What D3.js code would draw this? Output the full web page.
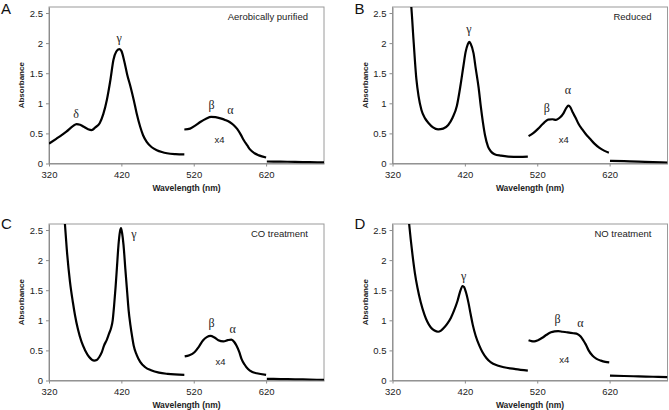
<!DOCTYPE html>
<html>
<head>
<meta charset="utf-8">
<script src="https://cdn.jsdelivr.net/npm/d3@7"></script>
<style>
  body { margin: 0; background: #fff; }
  svg { display: block; font-family: "Liberation Sans", Arial, sans-serif; }
  .axis path, .axis line { stroke: #8c8c8c; }
  .axis text { fill: #222; font-size: 9.5px; }
</style>
</head>
<body>
<svg id="chart" width="669" height="410"></svg>
<script>
// wavelength (nm), absorbance
const aerobicMain = [[320,0.33],[330,0.41],[344,0.53],[353,0.62],[358,0.655],[363,0.645],[368,0.61],[374,0.57],[379,0.555],[384,0.6],[390,0.67],[395,0.82],[400,1.06],[405,1.4],[409,1.72],[413,1.86],[417,1.9],[420,1.87],[424,1.7],[428,1.48],[433,1.26],[437,1.06],[441,0.84],[446,0.61],[450,0.47],[455,0.36],[462,0.27],[469,0.22],[476,0.19],[483,0.17],[495,0.155],[507,0.15]];
const aerobicX4 = [[507,0.565],[515,0.58],[522,0.63],[529,0.69],[537,0.745],[544,0.775],[550,0.77],[557,0.75],[564,0.72],[570,0.685],[575,0.64],[580,0.575],[585,0.48],[589,0.39],[594,0.3],[598,0.23],[604,0.17],[610,0.135],[620,0.1]];
const aerobicTail = [[621,0.033],[640,0.03],[660,0.027],[680,0.022],[700,0.018]];

const reducedMain = [[338,3.6],[343,2.95],[346,2.6],[349,2.06],[353,1.4],[356,1.12],[360,0.89],[365,0.75],[370,0.67],[376,0.6],[383,0.567],[390,0.58],[397,0.64],[403,0.76],[409,0.96],[414,1.3],[418,1.62],[421,1.85],[424,1.98],[426,2.02],[428,1.99],[432,1.83],[435,1.58],[439,1.26],[442,0.95],[445,0.68],[448,0.46],[452,0.28],[456,0.2],[461,0.155],[470,0.13],[480,0.115],[495,0.11],[507,0.115]];
const reducedX4 = [[508,0.455],[514,0.5],[521,0.575],[528,0.66],[535,0.73],[541,0.735],[546,0.725],[551,0.76],[556,0.83],[560,0.92],[563,0.96],[566,0.93],[569,0.85],[573,0.76],[577,0.66],[582,0.57],[587,0.49],[593,0.41],[599,0.33],[606,0.26],[613,0.21],[619,0.18]];
const reducedTail = [[620.5,0.045],[640,0.038],[660,0.03],[680,0.022],[700,0.015]];

const coMain = [[338,3.4],[342,2.6],[344.5,2.19],[349,1.64],[353,1.3],[356,1.08],[360,0.85],[365,0.64],[370,0.5],[375.5,0.39],[382.5,0.33],[386,0.34],[389.5,0.39],[393,0.47],[396,0.58],[400,0.68],[403,0.78],[406,0.88],[408,1.0],[410,1.25],[412,1.55],[414,1.9],[416,2.25],[418,2.47],[419.5,2.53],[421,2.45],[423,2.25],[425.5,1.85],[428,1.47],[430,1.17],[432.5,0.92],[435,0.72],[437,0.58],[441,0.43],[446,0.31],[453,0.22],[461,0.17],[472,0.13],[484,0.11],[507,0.095]];
const coX4 = [[507.5,0.4],[514,0.42],[521,0.47],[527,0.56],[533,0.67],[538,0.72],[543,0.74],[548,0.72],[554,0.67],[561,0.65],[567,0.67],[572,0.68],[576,0.64],[579,0.58],[583,0.47],[586,0.36],[590,0.27],[595,0.19],[601,0.14],[607,0.12],[620,0.094]];
const coTail = [[621,0.028],[640,0.024],[660,0.02],[680,0.015],[700,0.01]];

const noMain = [[338,3.3],[343,2.6],[347.6,2.09],[351,1.78],[354.5,1.54],[359,1.3],[364,1.1],[368,0.98],[373,0.88],[378,0.83],[383,0.81],[387,0.83],[391.4,0.88],[396,0.95],[400.6,1.04],[405,1.16],[409.8,1.32],[413,1.46],[416.8,1.57],[419,1.55],[421.4,1.47],[425,1.29],[428,1.1],[431,0.92],[435,0.74],[440,0.58],[444.4,0.47],[450,0.37],[456,0.3],[465,0.25],[474,0.22],[490,0.19],[507,0.165]];
const noX4 = [[508,0.67],[512,0.655],[516,0.65],[521,0.67],[527,0.71],[533,0.76],[539,0.8],[544,0.815],[549,0.82],[555,0.81],[562,0.8],[570,0.785],[576,0.77],[580,0.73],[584,0.66],[587,0.6],[591,0.5],[596.5,0.41],[602,0.36],[608,0.33],[614,0.31],[619.5,0.3]];
const noTail = [[620.5,0.082],[640,0.075],[660,0.068],[680,0.062],[700,0.055]];

// peak labels: [text, wavelength, absorbance]
const aerobicLabels = [["δ",357.4,0.82],["γ",417,2.09],["β",544.5,0.97],["α",570.8,0.9],["x4",555.5,0.39]];
const reducedLabels = [["γ",425.5,2.23],["β",533.3,0.92],["α",562.2,1.22],["x4",556.7,0.39]];
const coLabels = [["γ",437.2,2.43],["β",544.6,0.96],["α",573.7,0.86],["x4",557,0.32]];
const noLabels = [["γ",418.2,1.74],["β",548.1,1.03],["α",579.5,0.96],["x4",557.4,0.34]];

const panelLetters = ["A", "B", "C", "D"];
const conditions = ["Aerobically purified", "Reduced", "CO treatment", "NO treatment"];
const xTicks = [320, 420, 520, 620];
const yTicks = [0, 0.5, 1, 1.5, 2, 2.5];

const panels = [
  { segs: [aerobicMain, aerobicX4, aerobicTail], labels: aerobicLabels },
  { segs: [reducedMain, reducedX4, reducedTail], labels: reducedLabels },
  { segs: [coMain, coX4, coTail], labels: coLabels },
  { segs: [noMain, noX4, noTail], labels: noLabels }
];

const svg = d3.select("#chart");
const colLeft = [49, 392.5];
const rowTop = [7, 224];
const pw = 275, ph = 156.5;

panels.forEach((p, i) => {
  const left = colLeft[i % 2], top = rowTop[Math.floor(i / 2)];
  const g = svg.append("g").attr("transform", `translate(${left},${top})`);

  const x = d3.scaleLinear().domain([320, 700]).range([0, pw]);
  const y = d3.scaleLinear().domain([0, 2.6]).range([ph, 0]);

  g.append("clipPath").attr("id", "clip" + i)
    .append("rect").attr("width", pw).attr("height", ph);

  g.append("rect")
    .attr("width", pw).attr("height", ph)
    .attr("fill", "none").attr("stroke", "#9a9a9a").attr("stroke-width", 1);

  g.append("g").attr("class", "axis")
    .call(d3.axisLeft(y).tickValues(yTicks).tickSize(3).tickSizeOuter(0).tickPadding(3).tickFormat(d3.format("~g")));

  g.append("g").attr("class", "axis")
    .attr("transform", `translate(0,${ph})`)
    .call(d3.axisBottom(x).tickValues(xTicks).tickSize(3).tickSizeOuter(0).tickPadding(5));

  const line = d3.line()
    .x(d => x(d[0])).y(d => y(d[1]))
    .curve(d3.curveMonotoneX);

  g.append("g").attr("clip-path", `url(#clip${i})`)
    .selectAll("path").data(p.segs).join("path")
    .attr("d", line)
    .attr("fill", "none").attr("stroke", "#000").attr("stroke-width", 2.2);

  p.labels.forEach(l => {
    g.append("text")
      .attr("x", x(l[1])).attr("y", y(l[2])).attr("dy", "0.35em")
      .attr("text-anchor", "middle")
      .style("font-size", l[0] === "x4" ? "9.5px" : "12px")
      .style("font-family", l[0] === "x4" ? "'Liberation Sans', Arial, sans-serif" : "'Liberation Serif', 'Times New Roman', serif")
      .attr("fill", "#222")
      .text(l[0]);
  });

  g.append("text")
    .attr("x", pw - 16).attr("y", 12.5)
    .attr("text-anchor", "end")
    .style("font-size", "9.5px").attr("fill", "#222")
    .text(conditions[i]);

  g.append("text")
    .attr("transform", `translate(-25,${ph / 2}) rotate(-90)`)
    .attr("text-anchor", "middle")
    .style("font-size", "8px").style("font-weight", "bold").attr("fill", "#222")
    .text("Absorbance");

  g.append("text")
    .attr("x", pw / 2).attr("y", ph + 27)
    .attr("text-anchor", "middle")
    .style("font-size", "8.5px").style("font-weight", "bold").attr("fill", "#222")
    .text("Wavelength (nm)");

  g.append("text")
    .attr("x", i % 2 ? -38 : -48).attr("y", i < 2 ? 7 : 5)
    .style("font-size", "15px").attr("fill", "#111")
    .text(panelLetters[i]);
});
</script>
</body>
</html>
